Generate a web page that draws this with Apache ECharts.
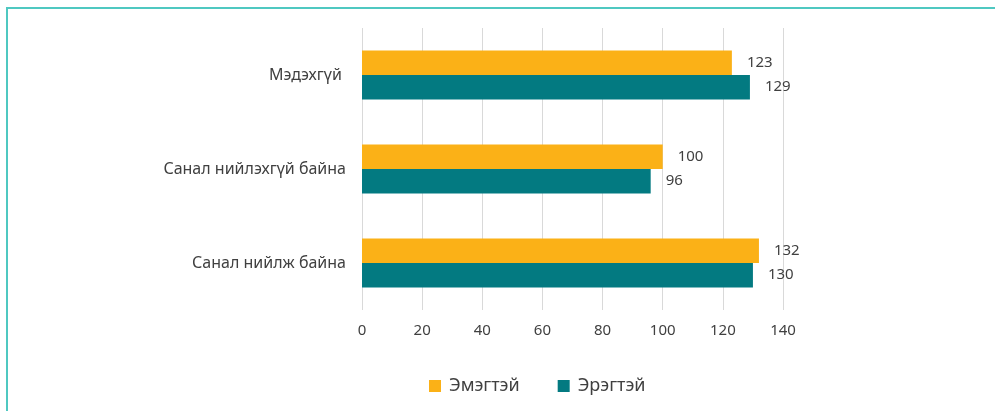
<!DOCTYPE html>
<html><head><meta charset="utf-8">
<script src="https://cdn.jsdelivr.net/npm/echarts@6/dist/echarts.min.js"></script>
<style>html,body{margin:0;padding:0;background:#fff}#c{width:995px;height:411px}</style>
</head><body><div id="c"></div>
<script>
const categories = ['Санал нийлж байна', 'Санал нийлэхгүй байна', 'Мэдэхгүй '];
const female = [132, 100, 123];
const male = [130, 96, 129];
const seriesNames = ['Эмэгтэй', 'Эрэгтэй'];
const axisTicks = [0, 140, 20];

const FONT = 'Noto Sans';
const chart = echarts.init(document.getElementById('c'));
const lbl = {show: true, position: 'right', distance: 15, color: '#404040', fontSize: 15, fontFamily: FONT};
chart.setOption({
  animation: false,
  graphic: [{type: 'rect', shape: {x: 7, y: 8, width: 1100, height: 600}, style: {fill: 'none', stroke: '#4FC8C1', lineWidth: 2}}],
  grid: {left: 362, right: 212, top: 28, bottom: 101},
  legend: {
    data: seriesNames, top: 372, left: 424, itemWidth: 12, itemHeight: 12, itemGap: 38,
    icon: 'rect', textStyle: {color: '#404040', fontSize: 18, fontFamily: FONT, padding: [0, 0, 0, 3]}
  },
  xAxis: {
    type: 'value', min: axisTicks[0], max: axisTicks[1], interval: axisTicks[2],
    axisLine: {show: false}, axisTick: {show: false},
    splitLine: {lineStyle: {color: '#D9D9D9', width: 1}},
    axisLabel: {color: '#404040', fontSize: 15, fontFamily: FONT, margin: 13}
  },
  yAxis: {
    type: 'category', data: categories,
    axisLine: {show: false}, axisTick: {show: false},
    axisLabel: {color: '#404040', fontSize: 16, fontFamily: FONT, margin: 16}
  },
  series: [
    {name: seriesNames[0], type: 'bar', data: female, itemStyle: {color: '#FBB117'}, barGap: '0%', barCategoryGap: '48%', label: lbl},
    {name: seriesNames[1], type: 'bar', data: male, itemStyle: {color: '#037A81'}, barGap: '0%', barCategoryGap: '48%', label: lbl}
  ]
});
</script></body></html>
